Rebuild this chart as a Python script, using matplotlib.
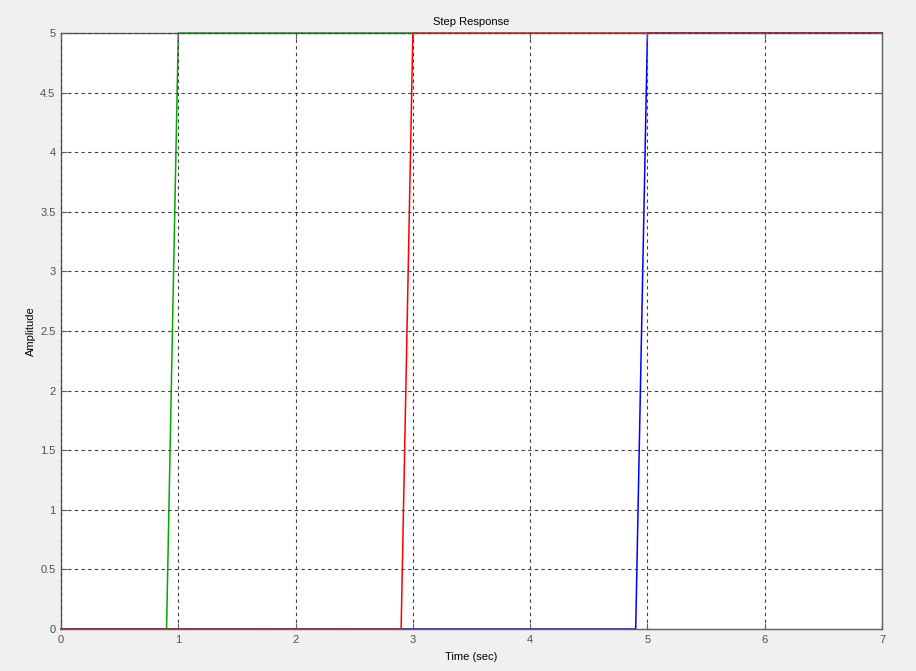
import matplotlib
matplotlib.use("Agg")
import matplotlib.pyplot as plt

# step responses (time, amplitude)
t_green = [0, 0.9, 1.0, 3.0]
y_green = [0, 0, 5, 5]
t_blue = [0, 4.9, 5.0, 7.0]
y_blue = [0, 0, 5, 5]
t_red = [0, 2.9, 3.0, 7.0]
y_red = [0, 0, 5, 5]

xticks = [0, 1, 2, 3, 4, 5, 6, 7]
yticks = [0, 0.5, 1, 1.5, 2, 2.5, 3, 3.5, 4, 4.5, 5]
ytick_labels = ["0", "0.5", "1", "1.5", "2", "2.5", "3", "3.5", "4", "4.5", "5"]

plt.rcParams['font.family'] = ['Liberation Sans', 'DejaVu Sans']

fig = plt.figure(figsize=(9.16, 6.71), dpi=100, facecolor="#f0f0f0")
ax = fig.add_axes([61 / 916, 1 - 629 / 671, 821 / 916, 596 / 671])
ax.set_facecolor("white")

ax.plot(t_green, y_green, color="#00aa00", lw=1.1, clip_on=False, zorder=2.0)
ax.plot(t_blue, y_blue, color="#0000ff", lw=1.1, clip_on=False, zorder=2.1)
ax.plot(t_red, y_red, color="#ff0000", lw=1.1, clip_on=False, zorder=2.2)

ax.set_xlim(0, 7)
ax.set_ylim(0, 5)
ax.set_xticks(xticks)
ax.set_yticks(yticks)
ax.set_yticklabels(ytick_labels)

# grid drawn over the curves, like the original
ax.set_axisbelow(False)
ax.grid(True, color="#404040", linestyle=(0, (3, 3)), linewidth=0.8)

for s in ax.spines.values():
    s.set_color("#606060")
    s.set_linewidth(1.0)
ax.tick_params(direction="in", length=4, color="#606060", labelcolor="#505050",
               labelsize=8, top=True, right=True, pad=4)

ax.set_title("Step Response", fontsize=8, color="black", pad=6)
ax.set_xlabel("Time (sec)", fontsize=8, color="black", labelpad=5)
ax.set_ylabel("Amplitude", fontsize=8, color="black", labelpad=3)

fig.savefig("out.png", dpi=100, facecolor=fig.get_facecolor())
